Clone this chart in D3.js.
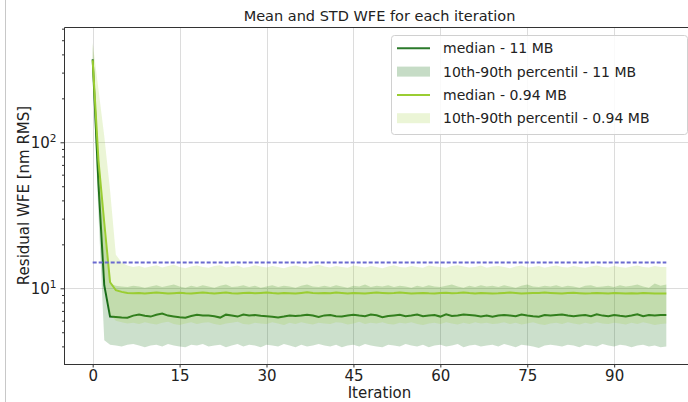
<!DOCTYPE html>
<html>
<head>
<meta charset="utf-8">
<script src="https://cdn.jsdelivr.net/npm/d3@7"></script>
<style>
  html, body { margin: 0; padding: 0; background: #fff; }
  svg { display: block; font-family: "DejaVu Sans", sans-serif; }
</style>
</head>
<body>
<svg id="chart" width="688" height="402"></svg>
<script>
// Residual wavefront error per iteration, two model sizes
const iterations = d3.range(100);

const median11MB = [
  370, 52, 10.5, 6.40, 6.35, 6.30, 6.28, 6.50, 6.62, 6.48,
  6.40, 6.58, 6.72, 6.50, 6.42, 6.34, 6.28, 6.46, 6.58, 6.52,
  6.50, 6.44, 6.30, 6.60, 6.52, 6.40, 6.62, 6.50, 6.56, 6.48,
  6.44, 6.38, 6.32, 6.40, 6.52, 6.46, 6.50, 6.58, 6.50, 6.36,
  6.52, 6.56, 6.44, 6.40, 6.50, 6.58, 6.50, 6.44, 6.62, 6.54,
  6.34, 6.46, 6.52, 6.58, 6.44, 6.50, 6.62, 6.44, 6.52, 6.56,
  6.40, 6.64, 6.46, 6.50, 6.62, 6.56, 6.50, 6.42, 6.52, 6.38,
  6.50, 6.56, 6.50, 6.44, 6.62, 6.52, 6.44, 6.38, 6.56, 6.50,
  6.56, 6.62, 6.50, 6.44, 6.52, 6.56, 6.44, 6.64, 6.50, 6.44,
  6.56, 6.48, 6.42, 6.52, 6.64, 6.44, 6.56, 6.50, 6.56, 6.56
];
const p10_11MB = [
  290, 32, 4.4, 4.10, 4.05, 4.00, 4.10, 4.15, 4.05, 3.95,
  4.05, 4.10, 4.00, 4.15, 4.05, 4.00, 3.95, 4.10, 4.05, 4.15,
  4.00, 4.05, 4.10, 3.95, 4.05, 4.15, 4.00, 4.10, 4.05, 3.95,
  4.10, 4.05, 4.00, 4.15, 4.05, 3.95, 4.10, 4.00, 4.05, 4.15,
  4.05, 4.00, 4.10, 3.95, 4.05, 4.10, 4.00, 4.15, 4.05, 4.00,
  3.95, 4.10, 4.05, 4.00, 4.15, 4.05, 4.00, 4.10, 3.95, 4.05,
  4.10, 4.00, 4.05, 4.15, 3.95, 4.05, 4.10, 4.00, 4.05, 4.10,
  4.00, 4.15, 4.05, 3.95, 4.10, 4.05, 4.00, 3.90, 4.05, 4.10,
  4.05, 4.00, 4.10, 4.05, 3.95, 4.10, 4.05, 4.00, 4.15, 4.05,
  4.00, 4.10, 4.05, 3.95, 4.05, 4.10, 4.00, 4.05, 3.95, 4.00
];
const p90_11MB = [
  470, 80, 24, 10.8, 10.4, 10.3, 10.2, 10.4, 10.3, 10.1,
  10.3, 10.5, 10.2, 10.4, 10.6, 10.3, 10.1, 10.4, 10.2, 10.5,
  10.3, 10.1, 10.4, 10.6, 10.2, 10.3, 10.5, 10.2, 10.4, 10.1,
  10.3, 10.5, 10.2, 10.4, 10.3, 10.1, 10.4, 10.6, 10.3, 10.2,
  10.4, 10.2, 10.5, 10.3, 10.1, 10.4, 10.3, 10.6, 10.2, 10.4,
  10.3, 10.5, 10.2, 10.4, 10.3, 10.1, 10.4, 10.2, 10.5, 10.3,
  10.2, 10.4, 10.6, 10.3, 10.1, 10.4, 10.2, 10.5, 10.3, 10.4,
  10.2, 10.5, 10.3, 10.1, 10.4, 10.6, 10.3, 10.2, 10.4, 10.3,
  10.5, 10.2, 10.4, 10.3, 10.1, 10.4, 10.5, 10.2, 10.3, 10.4,
  10.2, 10.5, 10.3, 10.4, 10.6, 10.3, 10.1, 10.8, 10.4, 10.6
];

const median094MB = [
  365, 75, 28, 11.0, 9.70, 9.45, 9.30, 9.25, 9.30, 9.22,
  9.28, 9.35, 9.30, 9.20, 9.26, 9.32, 9.24, 9.20, 9.30, 9.36,
  9.28, 9.22, 9.30, 9.34, 9.26, 9.20, 9.28, 9.32, 9.24, 9.30,
  9.36, 9.28, 9.22, 9.30, 9.26, 9.20, 9.30, 9.38, 9.28, 9.24,
  9.30, 9.26, 9.34, 9.28, 9.22, 9.30, 9.26, 9.20, 9.28, 9.34,
  9.30, 9.24, 9.28, 9.36, 9.30, 9.22, 9.26, 9.30, 9.24, 9.20,
  9.28, 9.32, 9.26, 9.30, 9.36, 9.28, 9.22, 9.30, 9.26, 9.20,
  9.24, 9.30, 9.34, 9.28, 9.22, 9.26, 9.30, 9.28, 9.34, 9.30,
  9.26, 9.22, 9.28, 9.32, 9.26, 9.20, 9.24, 9.30, 9.26, 9.22,
  9.28, 9.24, 9.20, 9.26, 9.22, 9.28, 9.24, 9.20, 9.22, 9.20
];
const p10_094MB = [
  300, 48, 12, 6.6, 6.0, 5.85, 5.75, 5.80, 5.70, 5.85,
  5.75, 5.65, 5.80, 5.90, 5.70, 5.60, 5.75, 5.85, 5.70, 5.80,
  5.85, 5.70, 5.60, 5.75, 5.80, 5.90, 5.70, 5.65, 5.80, 5.75,
  5.70, 5.85, 5.75, 5.60, 5.80, 5.70, 5.85, 5.75, 5.65, 5.80,
  5.75, 5.70, 5.85, 5.80, 5.65, 5.75, 5.90, 5.70, 5.80, 5.75,
  5.85, 5.70, 5.65, 5.80, 5.75, 5.85, 5.70, 5.60, 5.75, 5.80,
  5.70, 5.85, 5.75, 5.65, 5.80, 5.70, 5.85, 5.75, 5.80, 5.70,
  5.75, 5.85, 5.70, 5.80, 5.65, 5.75, 5.85, 5.70, 5.60, 5.75,
  5.80, 5.70, 5.85, 5.75, 5.65, 5.80, 5.70, 5.85, 5.75, 5.70,
  5.80, 5.75, 5.65, 5.80, 5.70, 5.85, 5.75, 5.60, 5.70, 5.75
];
const p90_094MB = [
  480, 230, 110, 47, 17.0, 15.0, 14.3, 14.0, 14.2, 13.8,
  14.1, 14.4, 13.9, 14.2, 14.5, 14.0, 13.7, 14.1, 14.3, 14.0,
  13.8, 14.2, 14.4, 13.9, 14.1, 14.3, 13.8, 14.0, 14.4, 14.1,
  13.9, 14.2, 14.0, 13.7, 14.1, 14.3, 14.0, 13.8, 14.2, 14.5,
  14.1, 13.9, 14.2, 14.0, 13.8, 14.3, 14.1, 13.9, 14.2, 14.0,
  13.7, 14.1, 14.4, 14.0, 13.9, 14.2, 14.0, 13.8, 14.3, 14.1,
  14.0, 13.8, 14.2, 14.4, 14.1, 13.9, 14.0, 14.3, 13.8, 14.1,
  14.2, 14.0, 13.7, 14.1, 14.3, 13.9, 14.0, 14.2, 13.8, 14.1,
  14.3, 14.0, 13.9, 14.2, 14.0, 13.8, 14.1, 14.3, 14.0, 13.9,
  14.2, 14.0, 13.8, 14.1, 14.3, 14.0, 13.9, 14.2, 14.0, 14.0
];

const requirementWFE = 15;

const xTicks = [0, 15, 30, 45, 60, 75, 90];
const yMajorTicks = [10, 100];
const yMinorTicks = [4, 5, 6, 7, 8, 9, 20, 30, 40, 50, 60, 70, 80, 90, 200, 300, 400, 500, 600];

const legendItems = [
  { label: "median - 11 MB", kind: "line", color: "#2b7a2b" },
  { label: "10th-90th percentil - 11 MB", kind: "patch", color: "#c6dcc6" },
  { label: "median - 0.94 MB", kind: "line", color: "#9acd32" },
  { label: "10th-90th percentil - 0.94 MB", kind: "patch", color: "#ebf5d6" }
];

const svg = d3.select("#chart");
const W = 688, H = 402;
const m = { left: 64, top: 27, right: 695, bottom: 364 };

const x = d3.scaleLinear().domain([-4.95, 103.95]).range([m.left, m.right]);
const y = d3.scaleLog().domain([3.03, 616]).range([m.bottom, m.top]);

// thin page border on the far left
svg.append("line").attr("x1", 5.5).attr("x2", 5.5).attr("y1", 0).attr("y2", H)
  .attr("stroke", "#c8c8c8").attr("stroke-width", 1);

svg.append("defs").append("clipPath").attr("id", "plotclip")
  .append("rect").attr("x", m.left).attr("y", m.top)
  .attr("width", m.right - m.left).attr("height", m.bottom - m.top);

// grid
const grid = svg.append("g").attr("stroke", "#dcdcdc").attr("stroke-width", 1);
grid.selectAll(".gx").data(xTicks).join("line")
  .attr("x1", d => Math.round(x(d)) + 0.5).attr("x2", d => Math.round(x(d)) + 0.5)
  .attr("y1", m.top).attr("y2", m.bottom);
grid.selectAll(".gy").data(yMajorTicks).join("line")
  .attr("x1", m.left).attr("x2", m.right)
  .attr("y1", d => Math.round(y(d)) + 0.5).attr("y2", d => Math.round(y(d)) + 0.5);

const plot = svg.append("g").attr("clip-path", "url(#plotclip)");

const band = (lo, hi) => d3.area()
  .x(i => x(i)).y0(i => y(lo[i])).y1(i => y(hi[i]));
const median = (vals) => d3.line().x(i => x(i)).y(i => y(vals[i]));

// 11 MB
plot.append("path").attr("d", median(median11MB)(iterations))
  .attr("fill", "none").attr("stroke", "#1f6f1f").attr("stroke-width", 2);
plot.append("path").attr("d", band(p10_11MB, p90_11MB)(iterations))
  .attr("fill", "darkgreen").attr("fill-opacity", 0.2);

// 0.94 MB
plot.append("path").attr("d", median(median094MB)(iterations))
  .attr("fill", "none").attr("stroke", "#9acd32").attr("stroke-width", 2);
plot.append("path").attr("d", band(p10_094MB, p90_094MB)(iterations))
  .attr("fill", "#9acd32").attr("fill-opacity", 0.2);

// requirement level
plot.append("path")
  .attr("d", d3.line().x(i => x(i)).y(() => y(requirementWFE))(iterations))
  .attr("fill", "none").attr("stroke", "#6a6ad0").attr("stroke-width", 2)
  .attr("stroke-dasharray", "4,2");

// axes
const xAxis = svg.append("g").attr("transform", `translate(0,${m.bottom})`)
  .call(d3.axisBottom(x).tickValues(xTicks).tickSize(3.5).tickSizeOuter(0).tickPadding(3));
xAxis.select(".domain").remove();
xAxis.selectAll("text").attr("font-size", 15).attr("fill", "#222")
  .attr("font-family", "DejaVu Sans");
xAxis.selectAll("line").attr("stroke", "#333");

const yAxis = svg.append("g").attr("transform", `translate(${m.left},0)`)
  .call(d3.axisLeft(y).tickValues(yMajorTicks).tickSize(3.5).tickSizeOuter(0).tickPadding(4));
yAxis.select(".domain").remove();
yAxis.selectAll("line").attr("stroke", "#333");
yAxis.selectAll("text").attr("font-size", 15).attr("fill", "#222")
  .attr("font-family", "DejaVu Sans")
  .each(function (d) {
    const t = d3.select(this);
    t.text(null);
    t.append("tspan").text("10");
    t.append("tspan").attr("dy", "-0.55em").attr("font-size", 10.5)
      .text(Math.round(Math.log10(d)));
  });

const yMinor = svg.append("g").attr("transform", `translate(${m.left},0)`)
  .call(d3.axisLeft(y).tickValues(yMinorTicks).tickSize(2).tickSizeOuter(0).tickFormat(""));
yMinor.select(".domain").remove();
yMinor.selectAll("line").attr("stroke", "#333");

// frame (right side falls outside the page)
svg.append("path")
  .attr("d", `M${m.left + 0.5},${m.bottom + 0.5} V${m.top + 0.5} H${m.right} M${m.left},${m.bottom + 0.5} H${m.right}`)
  .attr("fill", "none").attr("stroke", "#333").attr("stroke-width", 1);

// labels
svg.append("text").attr("x", (m.left + m.right) / 2).attr("y", 21)
  .attr("text-anchor", "middle").attr("font-size", 14.5).attr("fill", "#222")
  .text("Mean and STD WFE for each iteration");
svg.append("text").attr("x", (m.left + m.right) / 2).attr("y", 397.5)
  .attr("text-anchor", "middle").attr("font-size", 15).attr("fill", "#222")
  .text("Iteration");
svg.append("text")
  .attr("transform", `translate(29,${(m.top + m.bottom) / 2}) rotate(-90)`)
  .attr("text-anchor", "middle").attr("font-size", 15).attr("fill", "#222")
  .text("Residual WFE [nm RMS]");

// legend
const lg = svg.append("g");
lg.append("rect").attr("x", 391.5).attr("y", 35.5).attr("width", 296).attr("height", 99)
  .attr("rx", 3).attr("fill", "#fff").attr("fill-opacity", 0.85)
  .attr("stroke", "#d0d0d0").attr("stroke-width", 1);
const rowY = i => 48.3 + i * 23.3;
legendItems.forEach((it, i) => {
  const cy = rowY(i);
  if (it.kind === "line") {
    lg.append("line").attr("x1", 397).attr("x2", 430).attr("y1", cy).attr("y2", cy)
      .attr("stroke", it.color).attr("stroke-width", 2);
  } else {
    lg.append("rect").attr("x", 397).attr("y", cy - 5).attr("width", 33).attr("height", 10)
      .attr("fill", it.color);
  }
  lg.append("text").attr("x", 443).attr("y", cy + 5).attr("font-size", 14)
    .attr("fill", "#222").text(it.label);
});
</script>
</body>
</html>
